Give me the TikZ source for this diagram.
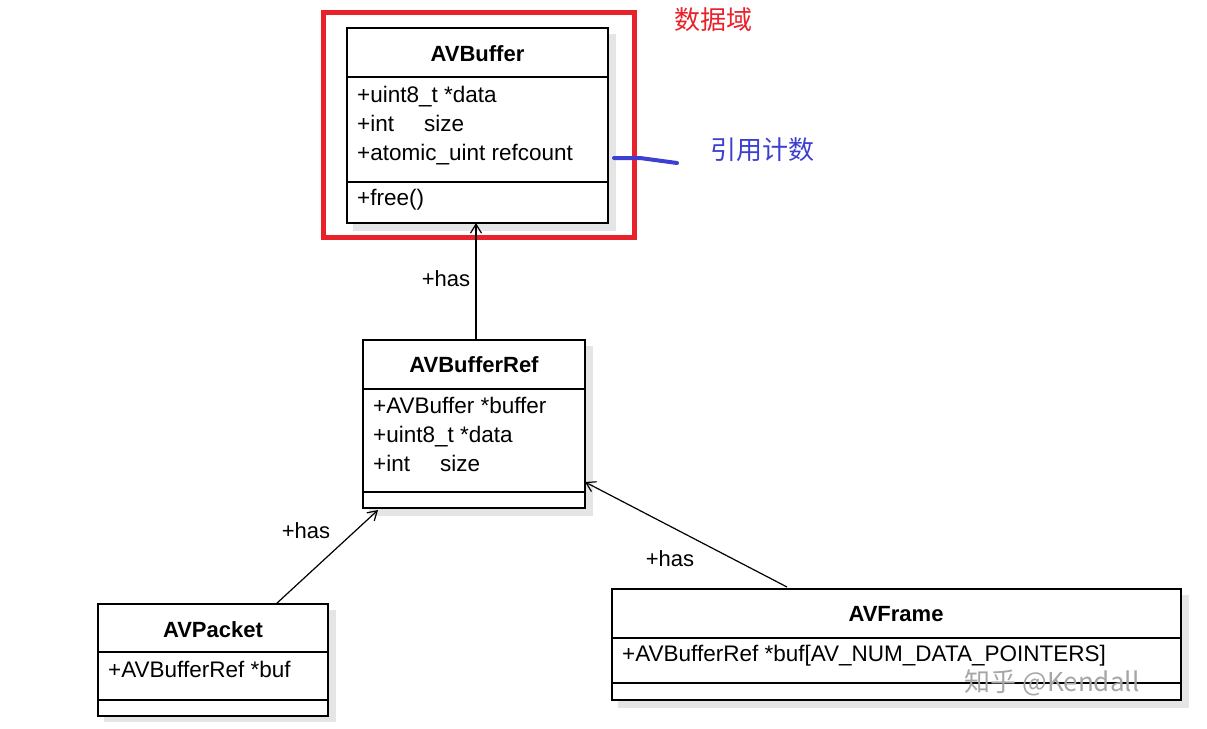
\documentclass[tikz,border=0pt]{standalone}
\usepackage{fontspec}
\setmainfont{Liberation Sans}
\newfontfamily\cjk{Noto Sans CJK SC}
\usetikzlibrary{arrows.meta}
\definecolor{rbox}{HTML}{E8212B}
\definecolor{bmark}{HTML}{3C3FD0}
\begin{document}
\begin{tikzpicture}[x=1pt,y=-1pt,
  box/.style={draw=black,line width=1.2pt,fill=white},
  shadow/.style={fill=black!10,draw=none},
  ttl/.style={font=\fontsize{22}{26}\selectfont\bfseries,anchor=center},
  txt/.style={font=\fontsize{22.5}{29}\selectfont,anchor=north west,align=left,inner sep=0pt},
  lbl/.style={font=\fontsize{22}{26}\selectfont},
  arr/.style={line width=1.2pt,-{Straight Barb[length=9pt,width=11pt]}}]
\useasboundingbox (0,0) rectangle (1207,728);
% shadows
\fill[shadow] (353,34) rectangle (616,231);
\fill[shadow] (369,346) rectangle (593,516);
\fill[shadow] (104,610) rectangle (336,722);
\fill[shadow] (618,595) rectangle (1189,708);
% AVBuffer
\draw[box] (347,28) rectangle (608,223);
\draw[line width=1.2pt] (347,77) -- (608,77) (347,182) -- (608,182);
\node[ttl] (avb) at (477.5,54) {AVBuffer};
\node[txt] (avbattr) at (357,86) {+uint8\_t *data\\+int\hspace{30pt}size\\+atomic\_uint refcount};
\node[txt] (avbm) at (357,189) {+free()};
\coordinate (avbbot) at (476,223);
\draw[rbox,line width=5pt] (323,12) rectangle (634,237);
\node[text=rbox,font=\cjk\fontsize{26}{30}\selectfont] (dom) at (713,20) {数据域};
\draw[bmark,line width=4pt,line cap=round] (614,158) -- (640,158) -- (677,163);
\node[text=bmark,font=\cjk\fontsize{26}{30}\selectfont] (ref) at (762,150) {引用计数};
% AVBufferRef
\draw[box] (363,340) rectangle (585,508);
\draw[line width=1.2pt] (363,389) -- (585,389) (363,492) -- (585,492);
\node[ttl] (avbr) at (474,365) {AVBufferRef};
\node[txt] (avbrattr) at (373,397) {+AVBuffer *buffer\\+uint8\_t *data\\+int\hspace{30pt}size};
\coordinate (avbrtop) at (476,340);
\draw[arr] (avbrtop) -- (avbbot);
\node[lbl] (h1) at (446,279) {+has};
% AVPacket
\draw[box] (98,604) rectangle (328,716);
\draw[line width=1.2pt] (98,652) -- (328,652) (98,700) -- (328,700);
\node[ttl] (avp) at (213,630) {AVPacket};
\node[txt] (avpattr) at (108,661) {+AVBufferRef *buf};
\coordinate (avptop) at (276,604);
\coordinate (avbrbl) at (378,510);
\draw[arr] (avptop) -- (avbrbl);
\node[lbl] (h2) at (306,531) {+has};
% AVFrame
\draw[box] (612,589) rectangle (1181,700);
\draw[line width=1.2pt] (612,638) -- (1181,638) (612,683) -- (1181,683);
\node[ttl] (avf) at (896,614) {AVFrame};
\node[txt] (avfattr) at (622,645) {+AVBufferRef *buf[AV\_NUM\_DATA\_POINTERS]};
\coordinate (avftop) at (787,587);
\coordinate (avbrbr) at (585,482);
\draw[arr] (avftop) -- (avbrbr);
\node[lbl] (h3) at (670,559) {+has};
\node[text=black!35,font=\cjk\fontsize{26}{30}\selectfont] (wm) at (1052,683) {知乎 @Kendall};
\end{tikzpicture}
\end{document}
